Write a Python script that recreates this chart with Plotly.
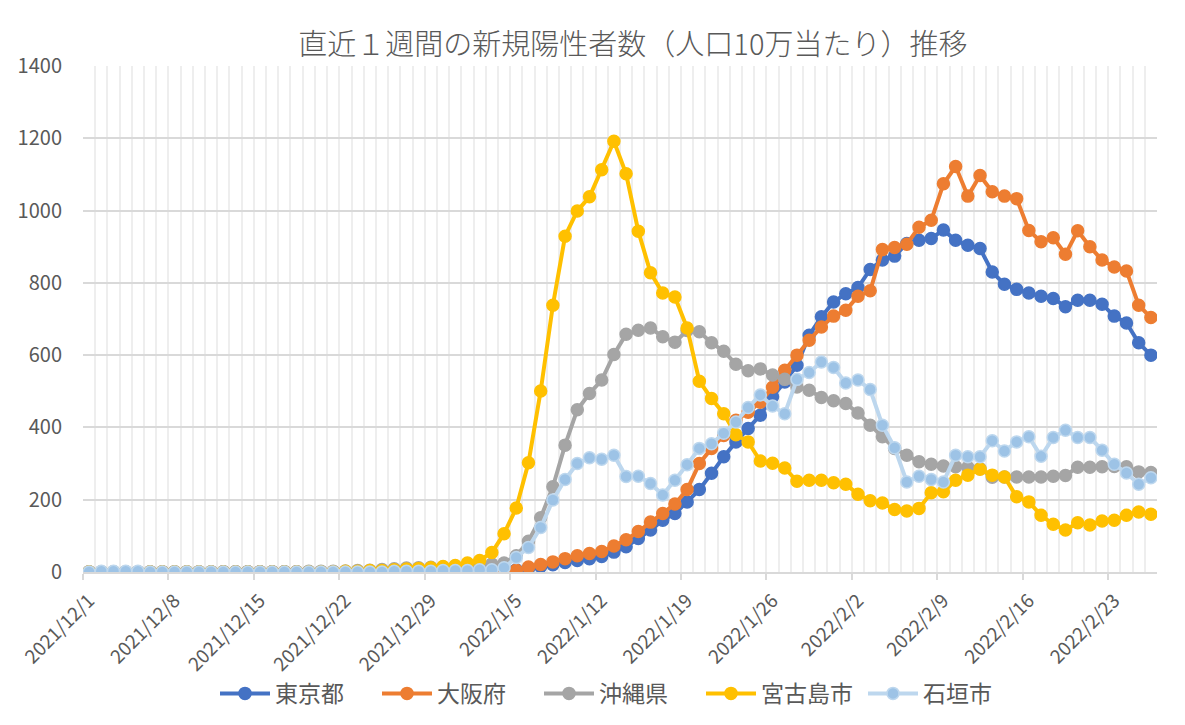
import plotly.graph_objects as go
import pandas as pd

# ---- categories ----
dates = pd.date_range("2021-12-01", periods=88, freq="D")
tick_labels = ["2021/12/1", "2021/12/8", "2021/12/15", "2021/12/22", "2021/12/29",
               "2022/1/5", "2022/1/12", "2022/1/19", "2022/1/26", "2022/2/2",
               "2022/2/9", "2022/2/16", "2022/2/23"]

# ---- series values (weekly new cases per 100k) ----
tokyo = [0.3, 0.3, 0.3, 0.3, 0.3, 0.3, 0.3, 0.3, 0.3, 0.3,
         0.3, 0.4, 0.4, 0.4, 0.4, 0.4, 0.4, 0.4, 0.5, 0.5,
         0.5, 0.6, 0.7, 0.8, 0.9, 1.0, 1.1, 1.3, 1.5, 1.7,
         2.0, 2.3, 2.6, 3.0, 4.0,
         6, 10, 15, 20, 26, 32, 37, 43, 55, 70,
         93, 116, 143, 162, 194, 228, 273, 319, 360, 397,
         434, 485, 526, 572, 655, 706, 747, 770, 787, 837,
         863, 874, 909, 918, 923, 946, 918, 904, 895, 830,
         796, 782, 772, 763, 757, 734, 752, 752, 741, 708,
         689, 634, 600]
osaka = [0.2, 0.2, 0.2, 0.2, 0.2, 0.2, 0.2, 0.2, 0.2, 0.2,
         0.2, 0.2, 0.2, 0.3, 0.3, 0.3, 0.3, 0.3, 0.3, 0.3,
         0.4, 0.4, 0.5, 0.5, 0.6, 0.7, 0.8, 0.9, 1.0, 1.2,
         1.4, 1.7, 2.0, 2.4, 3.0,
         5, 14, 21, 28, 37, 45, 51, 57, 72, 89,
         112, 138, 162, 188, 228, 300, 342, 378, 420, 442,
         470, 511, 558, 600, 641, 678, 708, 724, 763, 778,
         892, 898, 907, 954, 973, 1074, 1122, 1040, 1097, 1052,
         1040, 1033, 945, 914, 925, 879, 944, 900, 863, 844,
         833, 738, 704]
okinawa = [1, 1, 1, 1, 1, 1, 1, 1, 1, 1,
           1, 1, 1, 1, 1, 1, 1, 1, 2, 2,
           2, 3, 4, 5, 7, 9, 11, 12, 13, 14,
           16, 18, 20, 22, 25,
           45, 85, 150, 236, 351, 449, 494, 531, 602, 658,
           669, 675, 651, 636, 668, 665, 634, 611, 575, 557,
           562, 545, 533, 512, 503, 483, 474, 466, 440, 406,
           374, 342, 323, 305, 298, 293, 291, 290, 286, 262,
           263, 263, 263, 263, 265, 267, 290, 290, 291, 292,
           291, 277, 275]
miyako = [0, 0, 0, 0, 0, 0, 0, 0, 0, 0,
          0, 0, 0, 0, 0, 0, 0, 0, 0, 0,
          0, 2, 2, 4, 4, 6, 8, 10, 12, 15,
          18, 25, 32, 54, 106,
          177, 302, 501, 738, 929, 999, 1038, 1113, 1192, 1102,
          943, 828, 772, 761, 675, 528, 480, 438, 380, 360,
          307, 301, 288, 251, 254, 254, 247, 243, 215, 197,
          191, 173, 169, 176, 219, 222, 254, 268, 284, 268,
          263, 208, 194, 157, 132, 116, 136, 130, 141, 143,
          157, 166, 160]
ishigaki = [0, 2, 2, 2, 2, 0, 0, 0, 0, 0,
            0, 0, 0, 0, 0, 0, 0, 0, 0, 0,
            0, 0, 0, 0, 0, 2, 2, 2, 2, 4,
            4, 4, 6, 6, 12,
            40, 68, 123, 199, 256, 300, 316, 312, 323, 264,
            265, 245, 213, 254, 297, 342, 355, 384, 415, 455,
            490, 459, 438, 533, 552, 581, 566, 523, 531, 505,
            406, 344, 249, 265, 256, 249, 323, 319, 319, 363,
            335, 360, 374, 320, 372, 392, 372, 372, 337, 298,
            274, 243, 261]

series = [
    ("東京都", tokyo, "#4472C4", "#4472C4", "#4472C4"),
    ("大阪府", osaka, "#ED7D31", "#ED7D31", "#ED7D31"),
    ("沖縄県", okinawa, "#A5A5A5", "#A5A5A5", "#A5A5A5"),
    ("宮古島市", miyako, "#FFC000", "#FFC000", "#FFC000"),
    ("石垣市", ishigaki, "#BDD7EE", "#9DC3E6", "#BDD7EE"),
]

FONT = "Noto Sans CJK JP, Noto Sans, sans-serif"
TXT = "#595959"

fig = go.Figure()
for name, vals, lc, mc, mlc in series:
    fig.add_trace(go.Scatter(
        x=dates, y=vals, name=name, mode="lines+markers",
        line=dict(color=lc, width=4),
        marker=dict(color=mc, size=12, line=dict(color=mlc, width=1.5)),
    ))

half_day = pd.Timedelta(hours=12)
tick_pos = [(d - half_day).strftime("%Y-%m-%d %H:%M")
            for d in pd.date_range("2021-12-01", periods=len(tick_labels), freq="7D")]

W, H = 1169, 709  # page adds an 8px body margin on each side
fig.update_layout(
    width=W, height=H,
    paper_bgcolor="white", plot_bgcolor="white",
    margin=dict(l=75, r=20, t=58, b=145, autoexpand=False),
    font=dict(family=FONT, color=TXT),
    title=dict(text="直近１週間の新規陽性者数（人口10万当たり）推移",
               x=0.512, xref="paper", xanchor="center",
               y=1 - 37 / H, yref="container", yanchor="middle",
               font=dict(size=29, color=TXT, family=FONT, weight=300)),
    legend=dict(orientation="h", x=0.5, xanchor="center", y=-0.24, yanchor="middle",
                font=dict(size=23, color=TXT, family=FONT), itemwidth=50,
                entrywidth=97, entrywidthmode="pixels",
                bgcolor="rgba(0,0,0,0)"),
    showlegend=True,
)

fig.update_xaxes(
    type="date", automargin=False,
    range=[(dates[0] - half_day).strftime("%Y-%m-%d %H:%M"),
           (dates[-1] + half_day).strftime("%Y-%m-%d %H:%M")],
    tickvals=tick_pos, ticktext=tick_labels,
    tickangle=-45, ticks="outside", ticklen=6, tickcolor="#D9D9D9", tickwidth=1.5,
    ticklabelshift=6, ticklabelstandoff=2,
    tickfont=dict(size=19, color=TXT, family=FONT),
    showgrid=True, gridcolor="#EEEEEE", gridwidth=2,
    minor=dict(tick0=(dates[0] - half_day).strftime("%Y-%m-%d %H:%M"),
               dtick=86400000, showgrid=True, gridcolor="#EEEEEE", gridwidth=2, ticks=""),
    showline=True, linecolor="#D9D9D9", linewidth=2, zeroline=False,
)
fig.update_yaxes(
    range=[0, 1400], dtick=200, tick0=0, automargin=False,
    showgrid=True, gridcolor="#D9D9D9", gridwidth=1.5,
    ticks="", ticklabelstandoff=20,
    tickfont=dict(size=20, color=TXT, family=FONT),
    zeroline=False, showline=False,
)

fig.write_html("out.html")
